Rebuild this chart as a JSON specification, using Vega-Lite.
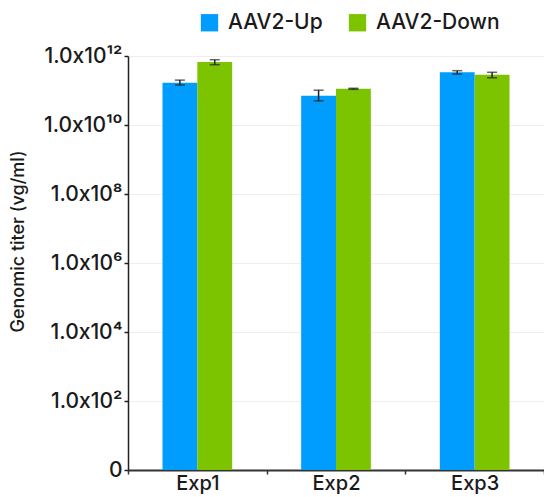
{
  "$schema": "https://vega.github.io/schema/vega-lite/v6.json",
  "autosize": {"type": "none"},
  "padding": {"left": 128, "top": 56, "right": 0, "bottom": 27},
  "width": 416,
  "height": 414,
  "data": {
    "values": [
      {"exp": "Exp1", "series": "AAV2-Up", "value": 1.68e11, "lo": 1.44e11, "hi": 2.0e11},
      {"exp": "Exp1", "series": "AAV2-Down", "value": 6.7e11, "lo": 5.6e11, "hi": 7.8e11},
      {"exp": "Exp2", "series": "AAV2-Up", "value": 7.1e10, "lo": 5.0e10, "hi": 1.02e11},
      {"exp": "Exp2", "series": "AAV2-Down", "value": 1.12e11, "lo": 1.08e11, "hi": 1.16e11},
      {"exp": "Exp3", "series": "AAV2-Up", "value": 3.37e11, "lo": 3.0e11, "hi": 3.75e11},
      {"exp": "Exp3", "series": "AAV2-Down", "value": 2.87e11, "lo": 2.34e11, "hi": 3.37e11}
    ]
  },
  "encoding": {
    "x": {
      "field": "exp", "type": "nominal",
      "scale": {"paddingInner": 0, "paddingOuter": 0},
      "axis": {
        "title": null, "labelAngle": 0, "labelFontSize": 20, "labelColor": "#1a1a1a",
        "labelFont": "Inter", "labelFontWeight": 500, "tickBand": "extent", "tickSize": 4,
        "tickColor": "#333", "tickWidth": 1.5, "domainColor": "#333", "domainWidth": 2,
        "labelBaseline": "alphabetic", "labelPadding": 15
      }
    },
    "xOffset": {
      "field": "series", "type": "nominal", "sort": ["AAV2-Up", "AAV2-Down"],
      "scale": {"paddingInner": 0, "paddingOuter": 0.99}
    }
  },
  "layer": [
    {
      "mark": {"type": "bar"},
      "encoding": {
        "y": {
          "field": "value", "type": "quantitative",
          "scale": {"type": "log", "domain": [1, 1e12], "nice": false},
          "axis": {
            "values": [1, 1e2, 1e4, 1e6, 1e8, 1e10, 1e12],
            "labelExpr": "datum.value < 10 ? '0' : '1.0x10' + (datum.value < 1e3 ? '²' : datum.value < 1e5 ? '⁴' : datum.value < 1e7 ? '⁶' : datum.value < 1e9 ? '⁸' : datum.value < 1e11 ? '¹⁰' : '¹²')",
            "labelFontSize": 21, "labelColor": "#1a1a1a", "labelFont": "Inter", "labelFontWeight": 500,
            "grid": true, "gridColor": "#eeeeee", "gridWidth": 1,
            "domainColor": "#222", "domainWidth": 1.5, "tickColor": "#222", "tickSize": 4,
            "tickWidth": 1.5, "labelPadding": 2,
            "title": "Genomic titer (vg/ml)", "titleFontSize": 18, "titleFontWeight": 500,
            "titleFont": "Inter", "titleColor": "#1a1a1a",
            "titleX": -110, "titleY": 185, "titleBaseline": "middle", "titleAlign": "center", "titleAngle": -90
          }
        },
        "y2": {"datum": 1},
        "color": {
          "field": "series", "type": "nominal", "sort": ["AAV2-Up", "AAV2-Down"],
          "scale": {"domain": ["AAV2-Up", "AAV2-Down"], "range": ["#009DFF", "#7DC400"]},
          "legend": {
            "title": null, "orient": "none", "direction": "horizontal",
            "legendX": 71, "legendY": -44, "symbolType": "square", "symbolSize": 300,
            "symbolStrokeWidth": 0, "symbolOpacity": 1,
            "labelFontSize": 21, "labelFont": "Inter", "labelFontWeight": 500, "labelColor": "#1a1a1a",
            "columnPadding": 24, "labelOffset": 8
          }
        }
      }
    },
    {
      "mark": {"type": "rule", "color": "#222", "strokeWidth": 1.5},
      "encoding": {
        "y": {"field": "lo", "type": "quantitative"},
        "y2": {"field": "hi"}
      }
    },
    {
      "mark": {"type": "tick", "color": "#222", "orient": "horizontal", "size": 10, "thickness": 1.5},
      "encoding": {"y": {"field": "lo", "type": "quantitative"}}
    },
    {
      "mark": {"type": "tick", "color": "#222", "orient": "horizontal", "size": 10, "thickness": 1.5},
      "encoding": {"y": {"field": "hi", "type": "quantitative"}}
    }
  ],
  "config": {"view": {"stroke": null}}
}
